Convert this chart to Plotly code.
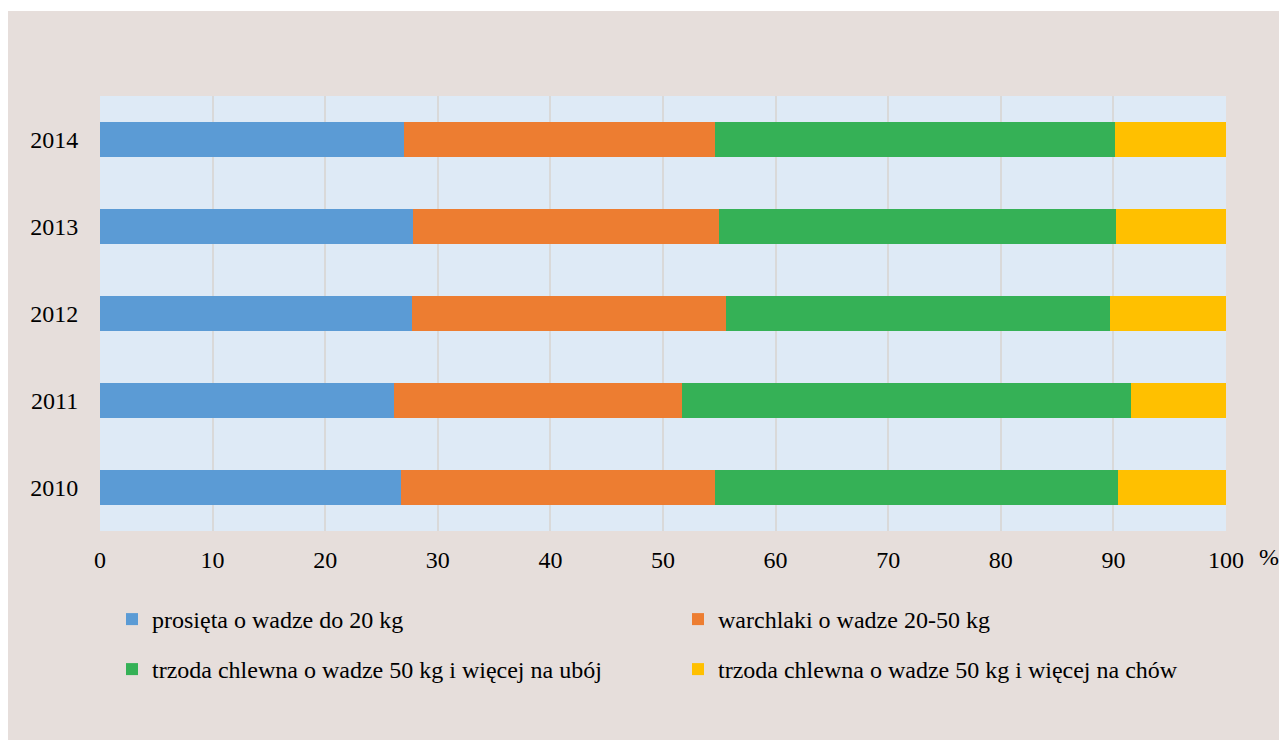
import plotly.graph_objects as go

years = ["2010", "2011", "2012", "2013", "2014"]
prosieta = [26.7, 26.1, 27.7, 27.8, 27.0]
warchlaki = [27.9, 25.6, 27.9, 27.2, 27.6]
uboj = [35.8, 39.9, 34.1, 35.2, 35.5]
chow = [9.6, 8.4, 10.3, 9.8, 9.9]

series_names = [
    "prosięta o wadze do 20 kg",
    "warchlaki o wadze 20-50 kg",
    "trzoda chlewna o wadze 50 kg i więcej na ubój",
    "trzoda chlewna o wadze 50 kg i więcej na chów",
]
series_values = [prosieta, warchlaki, uboj, chow]
colors = ["#5B9BD5", "#ED7D31", "#35B156", "#FFC000"]

x_ticks = list(range(0, 101, 10))

FONT = "Liberation Serif"
FS = 24

W, H = 1279, 740
L, R, T, B = 100, 53, 96, 209
pw = W - L - R
ph = H - T - B


def px_x(p):
    return (p - L) / pw


def px_y(p):
    return (H - B - p) / ph


legend_ids = ["legend", "legend2", "legend3", "legend4"]
# pixel anchors of each legend entry (left, top)
legend_pos = [(112, 597), (678, 597), (112, 647), (678, 647)]

fig = go.Figure()
for name, vals, col, lg in zip(series_names, series_values, colors, legend_ids):
    fig.add_trace(go.Bar(
        y=years, x=vals, name=name, orientation="h",
        marker=dict(color=col, line=dict(width=0)),
        legend=lg,
    ))

legend_layout = {}
for lg, (lx, ly) in zip(legend_ids, legend_pos):
    legend_layout[lg] = dict(
        orientation="h", x=px_x(lx), xanchor="left",
        y=px_y(ly), yanchor="top",
        bgcolor="rgba(0,0,0,0)", borderwidth=0,
        font=dict(family=FONT, size=FS, color="#000000"),
    )

fig.update_layout(
    width=W, height=H,
    margin=dict(l=L, r=R, t=T, b=B, pad=0),
    barmode="stack",
    bargap=0.598,
    paper_bgcolor="#E6DEDB",
    plot_bgcolor="#DEEAF6",
    font=dict(family=FONT, size=FS, color="#000000"),
    xaxis=dict(
        range=[0, 100], tickvals=x_ticks, ticktext=[str(v) for v in x_ticks],
        showgrid=True, gridcolor="#D9D9D9", gridwidth=1.5,
        zeroline=False, showline=False,
        ticks="outside", ticklen=7, tickcolor="rgba(0,0,0,0)",
        tickfont=dict(family=FONT, size=FS, color="#000000"),
        fixedrange=True,
    ),
    yaxis=dict(
        type="category", showgrid=False, zeroline=False, showline=False,
        ticks="outside", ticklen=16, tickcolor="rgba(0,0,0,0)",
        tickfont=dict(family=FONT, size=FS, color="#000000"),
        fixedrange=True,
    ),
    showlegend=True,
    annotations=[dict(
        text="%", xref="paper", yref="paper", x=px_x(1269), y=px_y(557),
        xanchor="center", yanchor="middle", showarrow=False,
        font=dict(family=FONT, size=FS, color="#000000"),
    )],
    shapes=[
        dict(type="rect", xref="paper", yref="paper", x0=-1, x1=2,
             y0=px_y(11), y1=px_y(-50), fillcolor="#FFFFFF", line=dict(width=0), layer="above"),
        dict(type="rect", xref="paper", yref="paper", x0=px_x(-50), x1=px_x(8),
             y0=-2, y1=2, fillcolor="#FFFFFF", line=dict(width=0), layer="above"),
    ],
    **legend_layout,
)

fig.write_html("out.html", config={"displayModeBar": False})
